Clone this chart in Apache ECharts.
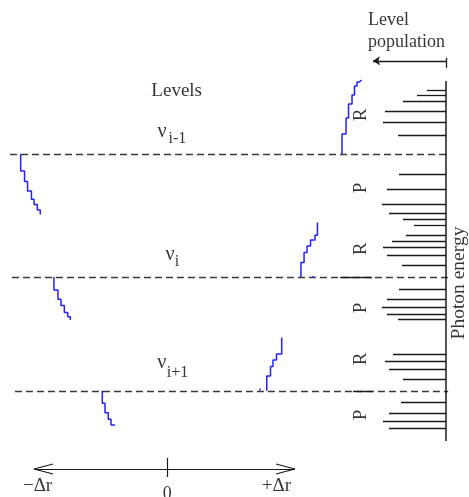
<!DOCTYPE html>
<html><head><meta charset="utf-8">
<script src="https://cdn.jsdelivr.net/npm/echarts@6/dist/echarts.min.js"></script>
<style>html,body{margin:0;padding:0;background:#fff}#c{width:469px;height:497px}</style>
</head><body><div id="c"></div>
<script>
// ---------- DATA ----------
// vibrational levels (energy, arbitrary units) and their dashed extent in Δr units
const levelEnergy = [71.5, 40.75, 12.3];
const levelStartDr = [-1.2, -1.185, -1.162];
const levelEndDr = [2.17, 2.17, 2.17];
const levelSub = ['i-1', 'i', 'i+1'];

// spectrum: photon energy of each line and its level population
const lineEnergy = [87.5, 86.1, 84.6, 82.3, 79.5, 76.2,
  66.4, 62.6, 59, 56.75, 55.2, 53.75,
  51.2, 49.75, 48.2, 46.2, 43.6,
  37.75, 35.2, 33.2, 31.4, 30.2,
  21.4, 19.75, 17.75, 15.2,
  9.5, 6.8, 4.8, 3];
const linePopulation = [19, 29, 43, 61, 63, 48,
  47, 59, 64, 57, 43, 32,
  40, 54, 63, 59, 44,
  47, 59, 64, 59, 48,
  53, 61, 57, 43,
  45, 57, 63, 57];
// band origin marks (population range) on levels i and i+1
const originEnergy = [40.75, 12.3];
const originPopFrom = [106, 93];
const originPopTo = [74, 73];

// branch labels
const branchNames = ['R', 'P', 'R', 'P', 'R', 'P'];
const branchEnergy = [81.25, 63, 47.75, 33, 20.25, 6.25];

// rotational staircases: [Δr, energy] step points
const rBranchUpper = [[1.354, 71.5], [1.385, 76.5], [1.404, 80.5], [1.431, 84], [1.45, 86.25], [1.469, 88.5], [1.488, 89.5], [1.504, 90]];
const pBranchUpper = [[-1.118, 71.5], [-1.088, 67.25], [-1.065, 64.6], [-1.035, 62.25], [-1.015, 60.2], [-0.99, 58.9], [-0.967, 57.5], [-0.967, 56.4]];
const rBranchMid = [[1.038, 40.75], [1.062, 44.4], [1.085, 46.9], [1.112, 48.5], [1.146, 50], [1.165, 51.2], [1.165, 54.4]];
const pBranchMid = [[-0.862, 40.75], [-0.831, 37.5], [-0.808, 35.2], [-0.782, 33.6], [-0.756, 31.9], [-0.736, 30.8], [-0.736, 30]];
const rBranchLower = [[0.775, 12.3], [0.804, 16], [0.823, 18.4], [0.85, 20], [0.89, 21.5], [0.89, 25.6]];
const pBranchLower = [[-0.49, 12.3], [-0.469, 9.2], [-0.444, 6.8], [-0.423, 5.2], [-0.392, 3.75]];
const blueMarks = [[1.131, 40.75], [0.723, 12.6]];

// Δr axis
const drAxisEnergy = -7.25;
const drAxisFrom = -1.015, drAxisTo = 0.992, drZero = 0.013;
const drLabels = ['−Δr', '0', '+Δr'];
const drLabelPos = [-0.988, 0.01, 0.85];

// spectrum axis extent (energy) and population arrow
const specTop = 89.75, specBottom = -0.25;
const popArrowEnergy = 94.8, popArrowLength = 73;

// ---------- CHART ----------
const SERIF = "'Liberation Serif','Times New Roman',serif";
const INK = '#000';
const BLUE = '#2222ff';

function seg(a, b) { return { coords: [a, b] }; }
function linesSeries(axis, data, style, extra) {
  return Object.assign({
    type: 'lines', coordinateSystem: 'cartesian2d', xAxisIndex: axis, yAxisIndex: 0,
    polyline: false, clip: false, silent: true, data: data,
    lineStyle: Object.assign({ color: '#1a1a1a', width: 1.3, opacity: 1 }, style)
  }, extra || {});
}
function textSeries(axis, items) {
  return {
    type: 'scatter', xAxisIndex: axis, yAxisIndex: 0, clip: false, silent: true,
    symbolSize: 1, itemStyle: { color: 'rgba(0,0,0,0)' },
    data: items.map(it => ({
      value: [it.x, it.y],
      label: {
        show: true, position: 'inside', formatter: it.t, color: INK,
        fontFamily: SERIF, fontSize: it.size || 18, align: it.align || 'center',
        verticalAlign: it.va || 'middle', rotate: it.rotate || 0
      }
    }))
  };
}
function stairs(pts) {
  return {
    type: 'line', xAxisIndex: 0, yAxisIndex: 0, data: pts, step: 'start',
    showSymbol: false, symbol: 'none', clip: false, silent: true,
    lineStyle: { color: BLUE, width: 1.5 }
  };
}

const ARROW_DX = 0.146, ARROW_DY = 1.25; // chevron arm size of the Δr arrows

const series = [
  // dashed level lines
  linesSeries(0, levelEnergy.map((e, i) => seg([levelStartDr[i], e], [levelEndDr[i], e])),
    { color: '#3a3a3a', width: 1.4, type: [7, 4] }),
  // band origin marks
  linesSeries(1, originEnergy.map((e, i) => seg([originPopFrom[i], e], [originPopTo[i], e])), { width: 1.4 }),
  // spectral lines
  linesSeries(1, lineEnergy.map((e, i) => seg([0, e], [linePopulation[i], e])), {}),
  // spectrum axis
  linesSeries(1, [seg([0, specTop], [0, specBottom])], { width: 1.5 }),
  // level population arrow
  linesSeries(1, [seg([0, popArrowEnergy], [popArrowLength, popArrowEnergy])], { width: 1.3 },
    { symbol: ['none', 'arrow'], symbolSize: 7 }),
  linesSeries(1, [seg([0, popArrowEnergy + 0.75], [0, popArrowEnergy - 1.75])], { width: 1.3 }),
  // Δr axis with open arrowheads and zero tick
  linesSeries(0, [
    seg([drAxisFrom, drAxisEnergy], [drAxisTo, drAxisEnergy]),
    seg([drAxisFrom, drAxisEnergy], [drAxisFrom + ARROW_DX, drAxisEnergy + ARROW_DY]),
    seg([drAxisFrom, drAxisEnergy], [drAxisFrom + ARROW_DX, drAxisEnergy - ARROW_DY]),
    seg([drAxisTo, drAxisEnergy], [drAxisTo - ARROW_DX, drAxisEnergy + ARROW_DY]),
    seg([drAxisTo, drAxisEnergy], [drAxisTo - ARROW_DX, drAxisEnergy - ARROW_DY]),
    seg([drZero, drAxisEnergy + 2.75], [drZero, drAxisEnergy - 2])
  ], { width: 1.2 }),
  // staircases
  stairs(rBranchUpper), stairs(pBranchUpper), stairs(rBranchMid),
  stairs(pBranchMid), stairs(rBranchLower), stairs(pBranchLower),
  {
    type: 'scatter', xAxisIndex: 0, yAxisIndex: 0, data: blueMarks, symbol: 'rect',
    symbolSize: [2, 2], itemStyle: { color: BLUE }, silent: true, clip: false
  },
  // texts in Δr coordinates
  textSeries(0, [
    { t: 'Levels', x: 0.082, y: 87.25, size: 19 },
    { t: 'ν', x: -0.03, y: 77, size: 20 },
    { t: levelSub[0], x: 0.088, y: 75.25, size: 16 },
    { t: 'ν', x: 0.031, y: 46.25, size: 20 },
    { t: levelSub[1], x: 0.085, y: 44.5, size: 16 },
    { t: 'ν', x: -0.033, y: 19.25, size: 20 },
    { t: levelSub[2], x: 0.088, y: 16.75, size: 16 },
    { t: drLabels[0], x: drLabelPos[0], y: -11.5, size: 19 },
    { t: drLabels[1], x: drLabelPos[1], y: -11.3, size: 18, va: 'top' },
    { t: drLabels[2], x: drLabelPos[2], y: -11.5, size: 19 }
  ]),
  // texts in population coordinates
  textSeries(1, [
    { t: 'Level', x: 78, y: 105, size: 18, align: 'left' },
    { t: 'population', x: 78, y: 99.5, size: 18, align: 'left' },
    { t: 'Photon energy', x: -13, y: 39.25, size: 19.5, rotate: 90 }
  ].concat(branchNames.map((b, i) => ({ t: b, x: 84.5, y: branchEnergy[i], size: 19, rotate: 90 }))))
];

const chart = echarts.init(document.getElementById('c'), null, { renderer: 'canvas' });
chart.setOption({
  animation: false,
  backgroundColor: '#fff',
  grid: { left: 0, right: 0, top: 0, bottom: 0, containLabel: false },
  xAxis: [
    { type: 'value', min: -166 / 130, max: 303 / 130, show: false },
    { type: 'value', min: -23, max: 446, inverse: true, show: false }
  ],
  yAxis: [{ type: 'value', min: -14.25, max: 110, show: false }],
  series: series
});
</script>
</body></html>
